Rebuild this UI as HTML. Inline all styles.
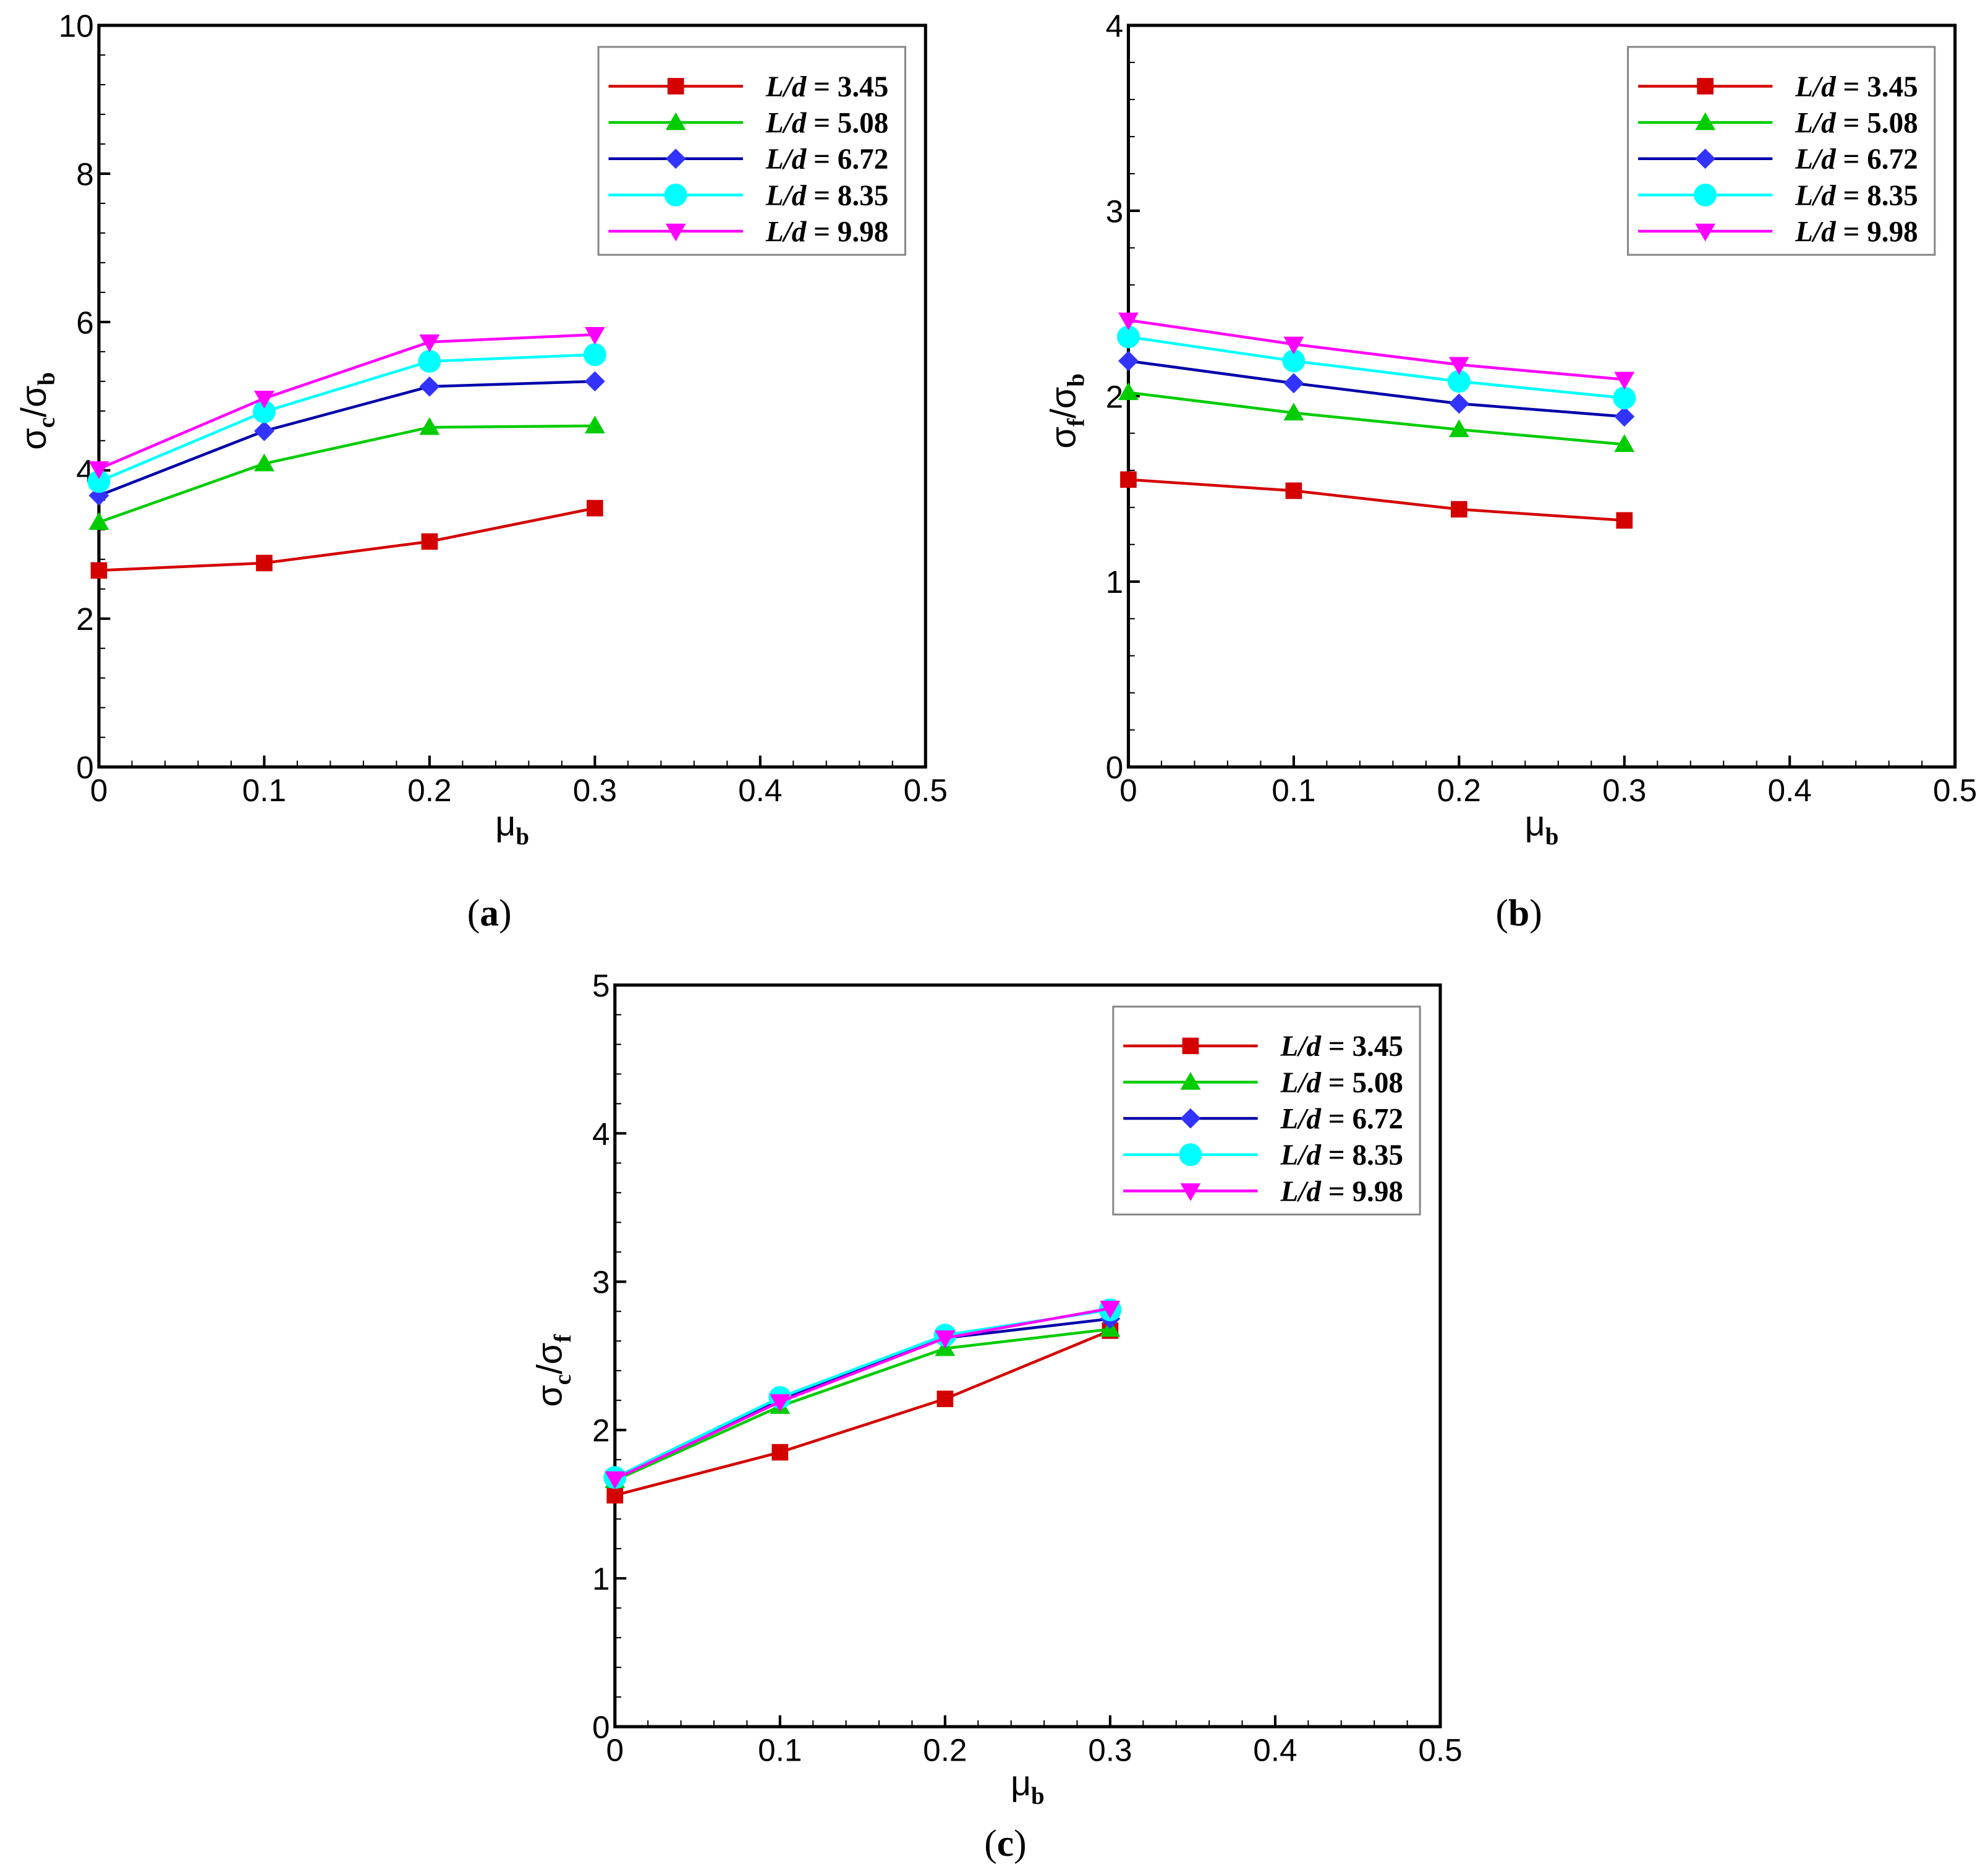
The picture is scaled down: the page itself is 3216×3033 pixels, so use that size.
<!DOCTYPE html>
<html><head><meta charset="utf-8">
<style>
html,body{margin:0;padding:0;background:#fff;}
svg{display:block;}
.tk{font-family:"Liberation Sans",sans-serif;font-size:25px;fill:#000;}
.lg{font-family:"Liberation Serif",serif;font-size:23px;font-weight:bold;fill:#000;}
.cap{font-family:"Liberation Serif",serif;font-size:30px;fill:#000;}
.ax{font-family:"Liberation Sans",sans-serif;font-size:28px;fill:#000;}
</style></head>
<body>
<svg id="fig" width="3216" height="3033" viewBox="0 0 1568 1479" preserveAspectRatio="none" xmlns="http://www.w3.org/2000/svg"></svg>
<script>
const xValues = [0, 0.1, 0.2, 0.3];
const seriesLabels = ["L/d = 3.45", "L/d = 5.08", "L/d = 6.72", "L/d = 8.35", "L/d = 9.98"];
const xTicks = [0, 0.1, 0.2, 0.3, 0.4, 0.5];
const xTickLabels = ["0", "0.1", "0.2", "0.3", "0.4", "0.5"];
// panel (a): sigma_c / sigma_b
const aRed = [2.65, 2.75, 3.04, 3.49];
const aGreen = [3.30, 4.09, 4.58, 4.60];
const aBlue = [3.66, 4.53, 5.13, 5.20];
const aCyan = [3.85, 4.79, 5.47, 5.56];
const aMagenta = [4.02, 4.97, 5.73, 5.83];
const aYTicks = [0, 2, 4, 6, 8, 10];
// panel (b): sigma_f / sigma_b
const bRed = [1.55, 1.49, 1.39, 1.33];
const bGreen = [2.02, 1.91, 1.82, 1.74];
const bBlue = [2.19, 2.07, 1.96, 1.89];
const bCyan = [2.32, 2.19, 2.08, 1.99];
const bMagenta = [2.41, 2.28, 2.17, 2.09];
const bYTicks = [0, 1, 2, 3, 4];
// panel (c): sigma_c / sigma_f
const cRed = [1.56, 1.85, 2.21, 2.67];
const cGreen = [1.66, 2.16, 2.55, 2.68];
const cBlue = [1.67, 2.21, 2.62, 2.75];
const cCyan = [1.68, 2.22, 2.64, 2.81];
const cMagenta = [1.67, 2.19, 2.62, 2.82];
const cYTicks = [0, 1, 2, 3, 4, 5];

const colors = ["#d40000", "#00cc00", "#0000aa", "#00ffff", "#ff00ff"];
const markerFill = ["#d40000", "#00cc00", "#3333ff", "#00ffff", "#ff00ff"];
const markers = ["square", "tri", "diamond", "circle", "itri"];
const NS = "http://www.w3.org/2000/svg";
const svg = document.getElementById("fig");

function mk(tag, attrs, parent) {
  const e = document.createElementNS(NS, tag);
  for (const k in attrs) e.setAttribute(k, attrs[k]);
  (parent || svg).appendChild(e);
  return e;
}
function marker(g, type, x, y, fill) {
  let e;
  if (type === "square") e = mk("rect", {x: x - 6.5, y: y - 6.5, width: 13, height: 13, fill: fill}, g);
  else if (type === "tri") e = mk("polygon", {points: `${x},${y-8} ${x+8},${y+6} ${x-8},${y+6}`, fill: fill}, g);
  else if (type === "itri") e = mk("polygon", {points: `${x},${y+8} ${x+8},${y-6} ${x-8},${y-6}`, fill: fill}, g);
  else if (type === "diamond") e = mk("polygon", {points: `${x},${y-8} ${x+8},${y} ${x},${y+8} ${x-8},${y}`, fill: fill}, g);
  else e = mk("circle", {cx: x, cy: y, r: 9, fill: fill}, g);
  return e;
}

function panel(p) {
  const g = mk("g", {});
  
  
  const yMax = p.yTicks[p.yTicks.length - 1];
  const X = v => p.x0 + (v / 0.5) * (p.x1 - p.x0);
  const Y = v => p.y1 - (v / yMax) * (p.y1 - p.y0);
  for (let v = 0; v <= 0.5001; v += 0.02) {
    const t = mk("line", {x1: X(v), x2: X(v), y1: p.y1, y2: p.y1 - 5, stroke: "#000", "stroke-width": 1}, g);
    
    
  }
  for (let v = 0; v <= yMax + 1e-9; v += p.yMinor) {
    const t = mk("line", {x1: p.x0, x2: p.x0 + 5, y1: Y(v), y2: Y(v), stroke: "#000", "stroke-width": 1}, g);
    
    
  }
  xTicks.forEach((v, i) => {
    const t = mk("line", {x1: X(v), x2: X(v), y1: p.y1, y2: p.y1 - 9, stroke: "#000", "stroke-width": 2}, g);
    
    
    const l = mk("text", {x: X(v), y: p.y1 + 27, "text-anchor": "middle", class: "tk"}, g);
    l.textContent = xTickLabels[i];
    
    
  });
  p.yTicks.forEach(v => {
    const t = mk("line", {x1: p.x0, x2: p.x0 + 9, y1: Y(v), y2: Y(v), stroke: "#000", "stroke-width": 2}, g);
    
    
    const l = mk("text", {x: p.x0 - 4, y: Y(v) + 9, "text-anchor": "end", class: "tk"}, g);
    l.textContent = String(v);
    
    
  });
  const frame = mk("rect", {x: p.x0, y: p.y0, width: p.x1 - p.x0, height: p.y1 - p.y0, fill: "none", stroke: "#000", "stroke-width": 2.5}, g);
  
  
  p.series.forEach((arr, si) => {
    const sg = mk("g", {}, g);
    
    
    const pts = arr.map((v, i) => X(xValues[i]) + "," + Y(v)).join(" ");
    const pl = mk("polyline", {points: pts, fill: "none", stroke: colors[si], "stroke-width": 2.2}, sg);
    
    
    arr.forEach((v, i) => {
      const m = marker(sg, markers[si], X(xValues[i]), Y(v), markerFill[si]);
      
      
    });
  });
  const lg = mk("g", {}, g);
  
  
  const lb = mk("rect", {x: p.lx, y: p.ly, width: 242, height: 164, fill: "#fff", stroke: "#888", "stroke-width": 1.5}, lg);
  
  
  seriesLabels.forEach((s, si) => {
    const yy = p.ly + 31 + si * 28.6;
    const eg = mk("g", {}, lg);
    
    
    mk("line", {x1: p.lx + 8, x2: p.lx + 114, y1: yy, y2: yy, stroke: colors[si], "stroke-width": 2.2}, eg);
    marker(eg, markers[si], p.lx + 61, yy, markerFill[si]);
    const t = mk("text", {x: p.lx + 132, y: yy + 8, class: "lg"}, eg);
    t.innerHTML = '<tspan font-style="italic">L/d</tspan> = ' + s.split("= ")[1];
  });
  const xt = mk("text", {x: (p.x0 + p.x1) / 2, y: p.y1 + 54, "text-anchor": "middle", class: "ax"}, g);
  xt.innerHTML = 'μ<tspan font-size="19" dy="7" font-family="Liberation Serif" font-weight="bold">b</tspan>';
  
  
  const cy = p.y0 + (p.y1 - p.y0) * 0.52;
  const yt = mk("text", {x: 0, y: 0, "text-anchor": "middle", class: "ax", transform: `translate(${p.x0 - 42},${cy}) rotate(-90)`}, g);
  yt.innerHTML = 'σ<tspan font-size="19" dy="7" font-family="Liberation Serif" font-weight="bold">' + p.sub1 + '</tspan><tspan dy="-7">/σ</tspan><tspan font-size="19" dy="7" font-family="Liberation Serif" font-weight="bold">' + p.sub2 + '</tspan>';
  
  
  const cap = mk("text", {x: p.capX, y: p.capY, "text-anchor": "middle", class: "cap"}, g);
  cap.innerHTML = '(<tspan font-weight="bold">' + p.id + '</tspan>)';
  
  
}

panel({id: "a", x0: 78, x1: 730, y0: 20, y1: 605, yTicks: aYTicks, yMinor: 0.4,
  series: [aRed, aGreen, aBlue, aCyan, aMagenta], lx: 472, ly: 37, sub1: "c", sub2: "b", capX: 386, capY: 730});
panel({id: "b", x0: 890, x1: 1542, y0: 20, y1: 605, yTicks: bYTicks, yMinor: 0.2,
  series: [bRed, bGreen, bBlue, bCyan, bMagenta], lx: 1284, ly: 37, sub1: "f", sub2: "b", capX: 1198, capY: 730});
panel({id: "c", x0: 485, x1: 1136, y0: 777, y1: 1362, yTicks: cYTicks, yMinor: 0.2,
  series: [cRed, cGreen, cBlue, cCyan, cMagenta], lx: 878, ly: 794, sub1: "c", sub2: "f", capX: 793, capY: 1464});
</script>
</body></html>
